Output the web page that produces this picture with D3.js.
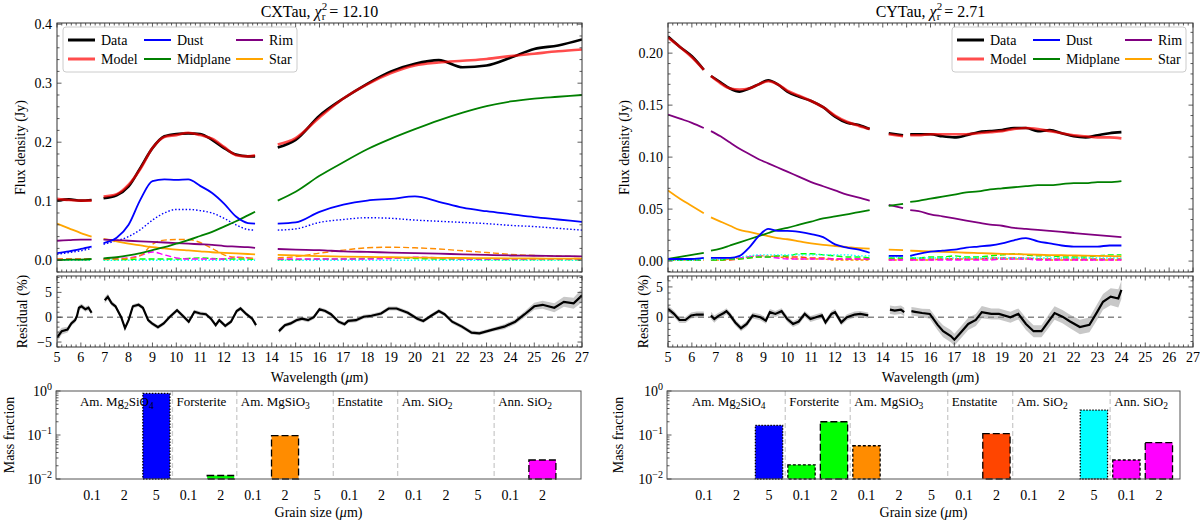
<!DOCTYPE html>
<html>
<head>
<meta charset="utf-8">
<script src="https://cdn.jsdelivr.net/npm/d3@7"></script>
<style>
body { margin: 0; background: #fff; }
</style>
</head>
<body>
<svg id="chart" width="1200" height="520"></svg>
<script>
// ---- CXTau spectrum (null = gap in wavelength coverage) ----
const cxWave = [5.0, 5.5, 6.0, 6.45, null, 6.95, 7.5, 8.0, 8.5, 9.0, 9.5, 10.0, 10.5, 11.0, 11.5, 12.0, 12.5, 13.0, 13.3, null, 14.25, 15, 16, 17, 18, 19, 20, 21, 22, 23, 24, 25, 26, 27];
const cxData = [0.101, 0.103, 0.101, 0.102, null, 0.105, 0.110, 0.125, 0.157, 0.190, 0.210, 0.214, 0.215, 0.214, 0.204, 0.190, 0.179, 0.176, 0.176, null, 0.191, 0.204, 0.245, 0.274, 0.299, 0.320, 0.333, 0.339, 0.327, 0.330, 0.343, 0.358, 0.364, 0.374];
const cxModel = [0.104, 0.102, 0.101, 0.101, null, 0.108, 0.112, 0.128, 0.155, 0.190, 0.209, 0.212, 0.216, 0.212, 0.206, 0.192, 0.178, 0.176, 0.178, null, 0.196, 0.207, 0.242, 0.274, 0.298, 0.317, 0.330, 0.335, 0.338, 0.341, 0.346, 0.350, 0.354, 0.357];
const cxDust = [0.012, 0.015, 0.019, 0.023, null, 0.029, 0.038, 0.060, 0.103, 0.134, 0.137, 0.136, 0.137, 0.126, 0.114, 0.096, 0.074, 0.063, 0.062, null, 0.062, 0.064, 0.082, 0.094, 0.101, 0.104, 0.108, 0.099, 0.089, 0.083, 0.078, 0.073, 0.069, 0.065];
const cxMid = [0.000, 0.001, 0.001, 0.002, null, 0.003, 0.005, 0.008, 0.012, 0.017, 0.022, 0.028, 0.034, 0.041, 0.048, 0.057, 0.066, 0.076, 0.082, null, 0.101, 0.116, 0.143, 0.166, 0.188, 0.206, 0.222, 0.237, 0.250, 0.261, 0.269, 0.274, 0.277, 0.280];
const cxRim = [0.033, 0.034, 0.035, 0.035, null, 0.035, 0.034, 0.033, 0.032, 0.031, 0.030, 0.029, 0.028, 0.027, 0.026, 0.024, 0.023, 0.022, 0.021, null, 0.019, 0.018, 0.017, 0.015, 0.014, 0.013, 0.012, 0.011, 0.010, 0.009, 0.008, 0.0075, 0.007, 0.0065];
const cxStar = [0.062, 0.054, 0.046, 0.040, null, 0.036, 0.032, 0.028, 0.025, 0.022, 0.020, 0.018, 0.0165, 0.015, 0.0135, 0.0125, 0.0115, 0.0105, 0.010, null, 0.009, 0.008, 0.007, 0.006, 0.0055, 0.005, 0.0045, 0.004, 0.0037, 0.0034, 0.0031, 0.0029, 0.0027, 0.0025];
// dust species contributions
const cxMg2SiO4big = [0.010, 0.013, 0.016, 0.020, null, 0.027, 0.033, 0.040, 0.052, 0.068, 0.080, 0.086, 0.086, 0.084, 0.080, 0.071, 0.060, 0.052, 0.051, null, 0.051, 0.053, 0.064, 0.069, 0.072, 0.071, 0.068, 0.066, 0.064, 0.062, 0.059, 0.057, 0.054, 0.051];
const cxMgSiO3mid = [0.002, 0.002, 0.002, 0.002, null, 0.002, 0.002, 0.003, 0.008, 0.027, 0.034, 0.035, 0.035, 0.030, 0.020, 0.009, 0.005, 0.004, 0.003, null, 0.004, 0.006, 0.012, 0.017, 0.021, 0.022, 0.021, 0.019, 0.016, 0.013, 0.010, 0.008, 0.007, 0.006];
const cxAnnSiO2mid = [0.002, 0.002, 0.002, 0.002, null, 0.002, 0.003, 0.004, 0.008, 0.014, 0.009, 0.004, 0.002, 0.002, 0.002, 0.002, 0.005, 0.004, 0.002, null, 0.002, 0.002, 0.002, 0.002, 0.002, 0.003, 0.005, 0.004, 0.002, 0.002, 0.002, 0.002, 0.002, 0.002];
const cxForstMid = [0.001, 0.001, 0.001, 0.001, null, 0.001, 0.001, 0.001, 0.002, 0.002, 0.002, 0.002, 0.003, 0.004, 0.003, 0.002, 0.002, 0.002, 0.001, null, 0.001, 0.001, 0.002, 0.002, 0.003, 0.004, 0.003, 0.002, 0.002, 0.001, 0.001, 0.001, 0.001, 0.001];
const cxAmSiO2 = [0, 0, 0, 0, null, 0, 0, 0, 0, 0, 0, 0, 0, 0, 0, 0, 0, 0, 0, null, 0, 0, 0, 0, 0, 0, 0, 0, 0, 0, 0, 0, 0, 0];
// residual: [wavelength, residual %, 1-sigma]
const cxResid = [
  [5.0,-4.1,0.9],[5.2,-2.8,0.7],[5.44,-2.5,0.6],[5.6,-1.25,0.5],[5.76,-0.6,0.5],[5.84,0.3,0.5],[5.92,1.9,0.5],[6.03,2.2,0.5],[6.19,1.6,0.5],[6.32,1.9,0.5],[6.45,0.9,0.5],
  null,
  [7.0,3.4,0.6],[7.13,4.1,0.6],[7.29,2.8,0.5],[7.45,2.2,0.4],[7.69,0,0.4],[7.85,-2.2,0.4],[8.0,-0.6,0.4],[8.18,2.2,0.4],[8.42,2.5,0.4],[8.6,1.9,0.4],[8.82,-0.6,0.4],[8.98,-1.25,0.4],[9.23,-2,0.4],[9.47,-1.25,0.4],[9.71,0,0.4],[10.03,1.4,0.4],[10.27,0.3,0.4],[10.52,-0.9,0.4],[10.76,1.1,0.4],[11.0,0.75,0.4],[11.24,0.6,0.4],[11.45,-0.3,0.4],[11.65,-1.6,0.4],[11.8,-0.6,0.4],[12.05,-1.75,0.4],[12.29,-0.9,0.4],[12.53,1.25,0.4],[12.69,1.75,0.4],[12.94,0.6,0.4],[13.18,-0.3,0.4],[13.34,-1.6,0.5],
  null,
  [14.3,-2.8,0.5],[14.55,-1.6,0.4],[14.79,-1.25,0.4],[15.03,-0.6,0.4],[15.27,-0.3,0.4],[15.52,-0.6,0.4],[15.76,0,0.4],[16.0,1.6,0.4],[16.24,1.25,0.4],[16.48,0.6,0.4],[16.8,-0.9,0.4],[17.05,-1.4,0.4],[17.2,-0.75,0.4],[17.53,-0.6,0.4],[17.85,0.1,0.4],[18.18,0.3,0.4],[18.58,0.75,0.4],[18.9,1.75,0.4],[19.23,1.75,0.4],[19.7,0.9,0.4],[20.1,-0.3,0.4],[20.35,-0.75,0.4],[20.68,0.3,0.4],[21.0,1.25,0.4],[21.24,0.6,0.4],[21.56,-0.9,0.4],[21.97,-1.9,0.4],[22.37,-3.1,0.4],[22.7,-3.25,0.4],[23.26,-2.5,0.4],[23.74,-1.9,0.5],[24.2,-0.9,0.5],[24.6,0.6,0.6],[25.0,2.2,0.7],[25.35,2.5,0.8],[25.84,1.9,0.9],[26.24,3.1,1.0],[26.65,2.8,1.1],[27.0,4.4,1.4]
];

// ---- CYTau spectrum ----
const cyWave = [5.0, 5.5, 6.0, 6.5, null, 6.8, 7.2, 7.6, 8.0, 8.4, 8.8, 9.2, 9.6, 10.0, 10.5, 11.0, 11.5, 12.0, 12.5, 13.0, 13.45, null, 14.25, 14.85, null, 15.15, 15.5, 16, 16.5, 17, 17.5, 18, 18.5, 19, 19.5, 20, 20.5, 21, 21.5, 22, 22.5, 23, 23.5, 24.0];
const cyData = [0.216, 0.206, 0.197, 0.184, null, 0.178, 0.172, 0.166, 0.163, 0.166, 0.170, 0.174, 0.170, 0.163, 0.158, 0.154, 0.148, 0.139, 0.133, 0.131, 0.127, null, 0.123, 0.121, null, 0.122, 0.122, 0.122, 0.120, 0.119, 0.121, 0.124, 0.125, 0.126, 0.128, 0.128, 0.125, 0.126, 0.123, 0.120, 0.119, 0.121, 0.123, 0.124];
const cyModel = [0.215, 0.206, 0.196, 0.184, null, 0.178, 0.171, 0.166, 0.165, 0.166, 0.170, 0.173, 0.170, 0.164, 0.159, 0.154, 0.148, 0.140, 0.134, 0.130, 0.127, null, 0.122, 0.120, null, 0.121, 0.121, 0.122, 0.122, 0.122, 0.122, 0.123, 0.124, 0.125, 0.127, 0.128, 0.127, 0.125, 0.123, 0.121, 0.120, 0.119, 0.119, 0.118];
const cyDust = [0.002, 0.002, 0.002, 0.003, null, 0.003, 0.003, 0.003, 0.005, 0.013, 0.024, 0.031, 0.029, 0.029, 0.028, 0.026, 0.023, 0.016, 0.013, 0.011, 0.008, null, 0.005, 0.005, null, 0.005, 0.007, 0.009, 0.010, 0.011, 0.013, 0.014, 0.015, 0.017, 0.020, 0.022, 0.019, 0.017, 0.015, 0.014, 0.014, 0.014, 0.015, 0.015];
const cyMid = [0.002, 0.004, 0.006, 0.008, null, 0.010, 0.012, 0.015, 0.018, 0.021, 0.024, 0.027, 0.030, 0.032, 0.035, 0.038, 0.041, 0.043, 0.045, 0.047, 0.049, null, 0.053, 0.055, null, 0.057, 0.058, 0.060, 0.062, 0.064, 0.066, 0.067, 0.069, 0.070, 0.071, 0.072, 0.073, 0.073, 0.074, 0.075, 0.075, 0.076, 0.076, 0.077];
const cyRim = [0.141, 0.137, 0.133, 0.128, null, 0.125, 0.120, 0.114, 0.108, 0.103, 0.098, 0.094, 0.090, 0.086, 0.081, 0.076, 0.072, 0.068, 0.064, 0.061, 0.058, null, 0.054, 0.051, null, 0.049, 0.048, 0.045, 0.043, 0.041, 0.039, 0.037, 0.035, 0.034, 0.032, 0.031, 0.030, 0.029, 0.028, 0.027, 0.026, 0.025, 0.024, 0.023];
const cyStar = [0.068, 0.060, 0.053, 0.046, null, 0.042, 0.038, 0.034, 0.030, 0.028, 0.026, 0.024, 0.022, 0.021, 0.019, 0.017, 0.0155, 0.0145, 0.0135, 0.0125, 0.012, null, 0.011, 0.0105, null, 0.010, 0.0097, 0.0093, 0.009, 0.0085, 0.008, 0.0077, 0.0073, 0.007, 0.0067, 0.0064, 0.0061, 0.0058, 0.0056, 0.0054, 0.0052, 0.005, 0.0048, 0.0046];
const cyAmSiO2big = [0.001, 0.001, 0.001, 0.002, null, 0.002, 0.002, 0.003, 0.004, 0.005, 0.006, 0.006, 0.006, 0.006, 0.006, 0.006, 0.006, 0.006, 0.006, 0.005, 0.005, null, 0.004, 0.004, null, 0.004, 0.003, 0.003, 0.003, 0.003, 0.003, 0.003, 0.003, 0.003, 0.003, 0.003, 0.003, 0.003, 0.003, 0.003, 0.003, 0.003, 0.003, 0.003];
const cyForstMid = [0.001, 0.001, 0.001, 0.001, null, 0.001, 0.001, 0.002, 0.002, 0.003, 0.004, 0.004, 0.005, 0.005, 0.007, 0.007, 0.006, 0.005, 0.004, 0.004, 0.003, null, 0.003, 0.003, null, 0.003, 0.003, 0.004, 0.004, 0.005, 0.004, 0.004, 0.005, 0.006, 0.007, 0.006, 0.005, 0.005, 0.004, 0.004, 0.004, 0.005, 0.006, 0.006];
const cyEnstMid = [0.001, 0.001, 0.001, 0.001, null, 0.001, 0.001, 0.001, 0.002, 0.003, 0.004, 0.004, 0.005, 0.004, 0.004, 0.003, 0.003, 0.002, 0.002, 0.002, 0.002, null, 0.002, 0.002, null, 0.002, 0.002, 0.002, 0.002, 0.002, 0.002, 0.002, 0.003, 0.003, 0.003, 0.003, 0.002, 0.002, 0.002, 0.002, 0.002, 0.002, 0.002, 0.002];
const cyAnnSiO2mid = [0.001, 0.001, 0.001, 0.001, null, 0.001, 0.002, 0.002, 0.003, 0.004, 0.005, 0.004, 0.003, 0.002, 0.002, 0.002, 0.002, 0.002, 0.002, 0.002, 0.002, null, 0.001, 0.001, null, 0.001, 0.001, 0.001, 0.001, 0.001, 0.001, 0.001, 0.001, 0.002, 0.002, 0.002, 0.001, 0.001, 0.001, 0.001, 0.001, 0.001, 0.001, 0.001];
const cyMgSiO3small = [0.001, 0.001, 0.001, 0.001, null, 0.001, 0.001, 0.002, 0.003, 0.004, 0.005, 0.005, 0.004, 0.003, 0.002, 0.002, 0.002, 0.001, 0.001, 0.001, 0.001, null, 0.001, 0.001, null, 0.001, 0.001, 0.001, 0.002, 0.002, 0.002, 0.002, 0.002, 0.002, 0.002, 0.002, 0.002, 0.001, 0.001, 0.001, 0.001, 0.001, 0.001, 0.001];
const cyResid = [
  [5.0,1.4,0.6],[5.24,0.6,0.5],[5.48,-0.45,0.5],[5.73,-0.45,0.5],[5.97,0.3,0.5],[6.2,0.45,0.5],[6.5,0.45,0.5],
  null,
  [6.8,0.3,0.6],[6.94,-0.3,0.6],[7.1,0.2,0.5],[7.34,0.7,0.5],[7.45,1.0,0.5],[7.58,0.45,0.5],[7.82,-0.85,0.5],[8.06,-1.8,0.5],[8.3,-1.1,0.5],[8.55,0.3,0.5],[8.87,0,0.5],[9.1,-0.55,0.5],[9.27,0.85,0.5],[9.5,0.55,0.5],[9.76,1.0,0.5],[10.0,-0.3,0.5],[10.24,-1.1,0.5],[10.48,-0.7,0.5],[10.73,0.55,0.5],[10.97,-0.3,0.5],[11.2,0,0.5],[11.45,0.3,0.5],[11.6,-0.85,0.5],[11.85,0.55,0.5],[12.0,0.85,0.5],[12.26,-0.85,0.5],[12.5,0,0.5],[12.82,0.45,0.5],[13.06,0.55,0.5],[13.39,0.3,0.5],
  null,
  [14.3,1.25,0.7],[14.5,1.1,0.7],[14.76,1.25,0.7],[14.9,0.85,0.7],
  null,
  [15.2,1.0,0.7],[15.35,0.9,0.7],[15.65,0.7,0.7],[15.97,0.55,0.8],[16.3,-1.25,0.9],[16.53,-2.3,1.0],[16.85,-3.1,1.0],[17.0,-3.7,1.0],[17.26,-2.55,1.0],[17.58,-1.1,1.0],[17.9,-0.45,1.0],[18.15,0.85,1.0],[18.55,0.55,0.9],[18.87,0.55,0.9],[19.35,0,0.9],[19.68,0.55,0.9],[20.0,-1.1,1.0],[20.32,-2.3,1.0],[20.65,-2.3,1.0],[20.97,-0.55,1.1],[21.2,0.7,1.1],[21.53,0.1,1.1],[21.85,-0.7,1.1],[22.26,-1.6,1.2],[22.66,-1.25,1.2],[22.98,0.85,1.3],[23.23,2.55,1.3],[23.55,3.4,1.4],[23.87,3.1,1.5],[24.0,4.5,1.5]
];

// ---- dust composition ----
const speciesNames = [['Am. Mg', '2', 'SiO', '4'], ['Forsterite'], ['Am. MgSiO', '3'], ['Enstatite'], ['Am. SiO', '2'], ['Ann. SiO', '2']];
const speciesSizes = [['0.1', '2', '5'], ['0.1', '2'], ['0.1', '2', '5'], ['0.1', '2'], ['0.1', '2', '5'], ['0.1', '2']];
const speciesColors = ['#0000ff', '#00ff00', '#ff8c00', '#ff4500', '#00ffff', '#ff00ff'];
const cxMass = [0, 0, 0.88, 0, 0.012, 0, 0.097, 0, 0, 0, 0, 0, 0, 0, 0.027];
const cyMass = [0, 0, 0.165, 0.021, 0.20, 0.057, 0, 0, 0, 0.107, 0, 0, 0.367, 0.027, 0.067];

const sizeDash = { '0.1': '3,2', '2': '7,3', '5': '1.5,1.5' };
const legendItems = [['Data', '#000000', 3], ['Dust', '#0000ff', 2], ['Rim', '#800080', 2],
                     ['Model', '#ff4d4d', 3], ['Midplane', '#008000', 2], ['Star', '#ffa500', 2]];

const panels = [
  {
    name: 'CXTau', chi: '12.10', x0: 57, x1: 582, yDom: [-0.02, 0.402], yMajor: 0.1, yMinor: 0.02, yFmt: d3.format('.1f'),
    resDom: [-6, 8.3], wave: cxWave, data: cxData, model: cxModel, dust: cxDust, mid: cxMid, rim: cxRim, star: cxStar,
    comps: [[cxAmSiO2, '#00ffff', '1.5,2'], [cxForstMid, '#00ff00', '6,3'], [cxAnnSiO2mid, '#ff00ff', '6,3'],
            [cxMgSiO3mid, '#ff8c00', '6,3'], [cxMg2SiO4big, '#0000ff', '1.5,2']],
    resid: cxResid, legendX: 63, barX0: 56, barX1: 581, barDom: [-1.12, 15.2], mass: cxMass
  },
  {
    name: 'CYTau', chi: '2.71', x0: 668, x1: 1193, yDom: [-0.0105, 0.229], yMajor: 0.05, yMinor: 0.01, yFmt: d3.format('.2f'),
    resDom: [-4.9, 6.8], wave: cyWave, data: cyData, model: cyModel, dust: cyDust, mid: cyMid, rim: cyRim, star: cyStar,
    comps: [[cyMgSiO3small, '#ff8c00', '3,2'], [cyEnstMid, '#ff4500', '6,3'], [cyAnnSiO2mid, '#ff00ff', '6,3'],
            [cyForstMid, '#00ff00', '6,3'], [cyAmSiO2big, '#00ffff', '1.5,2']],
    resid: cyResid, legendX: 952, barX0: 667, barX1: 1180, barDom: [-1.14, 14.65], mass: cyMass
  }
];

const TOP = [23, 272], RES = [276, 347], BAR = [391, 479];
const svg = d3.select('#chart')
  .attr('font-family', '"Liberation Serif", "Times New Roman", "DejaVu Serif", serif');
svg.append('rect').attr('width', 1200).attr('height', 520).attr('fill', '#fff');
const defs = svg.append('defs');

function stepValues(domain, step) {
  const out = [];
  const s = Math.ceil(domain[0] / step - 1e-9), e = Math.floor(domain[1] / step + 1e-9);
  for (let i = s; i <= e; i++) out.push(+(i * step).toFixed(6));
  return out;
}
function minorOnly(domain, step, majorStep) {
  return stepValues(domain, step).filter(v => Math.abs(v / majorStep - Math.round(v / majorStep)) > 1e-6);
}
function pairs(wave, vals) {
  return wave.map((w, i) => (w == null || vals[i] == null) ? null : [w, vals[i]]);
}

// inward ticks on all four sides, matplotlib style
function inwardTicks(g, x, y, xVals, yVals, len) {
  const [xa, xb] = x.range();
  const [ya, yb] = y.range();
  const t = g.append('g').attr('stroke', '#333').attr('stroke-width', 0.8);
  t.selectAll('.xb').data(xVals).join('line').attr('class', 'xb')
    .attr('x1', d => x(d)).attr('x2', d => x(d)).attr('y1', ya).attr('y2', ya - len);
  t.selectAll('.xt').data(xVals).join('line').attr('class', 'xt')
    .attr('x1', d => x(d)).attr('x2', d => x(d)).attr('y1', yb).attr('y2', yb + len);
  t.selectAll('.yl').data(yVals).join('line').attr('class', 'yl')
    .attr('x1', xa).attr('x2', xa + len).attr('y1', d => y(d)).attr('y2', d => y(d));
  t.selectAll('.yr').data(yVals).join('line').attr('class', 'yr')
    .attr('x1', xb).attr('x2', xb - len).attr('y1', d => y(d)).attr('y2', d => y(d));
}

function rotatedLabel(g, x, y, text) {
  return g.append('text').attr('transform', `translate(${x},${y}) rotate(-90)`)
    .attr('text-anchor', 'middle').attr('dy', '0.35em').attr('font-size', 14).text(text);
}

function unitLabel(g, x, y, before) {
  const t = g.append('text').attr('x', x).attr('y', y).attr('text-anchor', 'middle').attr('font-size', 14);
  t.append('tspan').text(before + ' (');
  t.append('tspan').attr('font-style', 'italic').text('μ');
  t.append('tspan').text('m)');
}

panels.forEach((p, k) => {
  const g = svg.append('g');
  const x = d3.scaleLinear().domain([5, 27]).range([p.x0, p.x1]);
  const y = d3.scaleLinear().domain(p.yDom).range([TOP[1], TOP[0]]);
  const yr = d3.scaleLinear().domain(p.resDom).range([RES[1], RES[0]]);

  defs.append('clipPath').attr('id', 'ct' + k).append('rect')
    .attr('x', p.x0).attr('y', TOP[0]).attr('width', p.x1 - p.x0).attr('height', TOP[1] - TOP[0]);
  defs.append('clipPath').attr('id', 'cr' + k).append('rect')
    .attr('x', p.x0).attr('y', RES[0]).attr('width', p.x1 - p.x0).attr('height', RES[1] - RES[0]);

  // ---------- spectrum panel ----------
  const line = d3.line().defined(d => d != null).x(d => x(d[0])).y(d => y(d[1])).curve(d3.curveMonotoneX);
  const plot = g.append('g').attr('clip-path', `url(#ct${k})`).attr('fill', 'none');

  p.comps.forEach(([vals, color, dash]) => {
    plot.append('path').attr('d', line(pairs(p.wave, vals)))
      .attr('stroke', color).attr('stroke-width', 1.4).attr('stroke-dasharray', dash);
  });
  [[p.star, '#ffa500'], [p.rim, '#800080'], [p.mid, '#008000'], [p.dust, '#0000ff']].forEach(([vals, color]) => {
    plot.append('path').attr('d', line(pairs(p.wave, vals))).attr('stroke', color).attr('stroke-width', 1.8);
  });
  plot.append('path').attr('d', line(pairs(p.wave, p.data))).attr('stroke', '#000').attr('stroke-width', 2.6);
  plot.append('path').attr('d', line(pairs(p.wave, p.model))).attr('stroke', '#ff0000')
    .attr('stroke-opacity', 0.7).attr('stroke-width', 2.6);

  g.append('rect').attr('x', p.x0).attr('y', TOP[0]).attr('width', p.x1 - p.x0).attr('height', TOP[1] - TOP[0])
    .attr('fill', 'none').attr('stroke', '#333').attr('stroke-width', 1);
  inwardTicks(g, x, y, stepValues([5, 27], 1), stepValues(p.yDom, p.yMajor), 4.5);
  inwardTicks(g, x, y, minorOnly([5, 27], 0.2, 1), minorOnly(p.yDom, p.yMinor, p.yMajor), 2.5);

  g.append('g').selectAll('text').data(stepValues(p.yDom, p.yMajor)).join('text')
    .attr('x', p.x0 - 5).attr('y', d => y(d)).attr('dy', '0.35em').attr('text-anchor', 'end')
    .attr('font-size', 14).text(d => p.yFmt(d));
  rotatedLabel(g, k === 0 ? 20 : 624, (TOP[0] + TOP[1]) / 2, 'Flux density (Jy)');

  // title with reduced chi-square
  const title = g.append('text').attr('x', (p.x0 + p.x1) / 2).attr('y', 17).attr('text-anchor', 'middle').attr('font-size', 16);
  title.append('tspan').text(p.name + ', ');
  title.append('tspan').attr('font-style', 'italic').text('χ');
  title.append('tspan').attr('font-size', 11).attr('dy', -7).text('2');
  title.append('tspan').attr('font-size', 11).attr('dx', -5.5).attr('dy', 10).text('r');
  title.append('tspan').attr('dy', -3).text(' = ' + p.chi);

  // legend
  const lg = g.append('g').attr('transform', `translate(${p.legendX},27)`);
  lg.append('rect').attr('width', 234).attr('height', 45).attr('rx', 3)
    .attr('fill', '#fff').attr('fill-opacity', 0.85).attr('stroke', '#cccccc');
  const colX = [5, 81, 173];
  const item = lg.selectAll('.item').data(legendItems).join('g')
    .attr('transform', (d, i) => `translate(${colX[i % 3]},${13 + Math.floor(i / 3) * 19})`);
  item.append('line').attr('x1', 0).attr('x2', 27).attr('stroke', d => d[1]).attr('stroke-width', d => d[2]);
  item.append('text').attr('x', 33).attr('dy', '0.35em').attr('font-size', 14).text(d => d[0]);

  // ---------- residual panel ----------
  const area = d3.area().defined(d => d != null).x(d => x(d[0]))
    .y0(d => yr(d[1] - d[2])).y1(d => yr(d[1] + d[2]));
  const rline = d3.line().defined(d => d != null).x(d => x(d[0])).y(d => yr(d[1]));
  const rp = g.append('g').attr('clip-path', `url(#cr${k})`);
  rp.append('path').attr('d', area(p.resid)).attr('fill', '#c8c8c8');
  const wl = d3.extent(p.resid.filter(d => d != null), d => d[0]);
  rp.append('line').attr('x1', x(wl[0])).attr('x2', x(wl[1])).attr('y1', yr(0)).attr('y2', yr(0))
    .attr('stroke', '#888').attr('stroke-width', 1.5).attr('stroke-dasharray', '6,4');
  rp.append('path').attr('d', rline(p.resid)).attr('fill', 'none').attr('stroke', '#000').attr('stroke-width', 2.2);

  g.append('rect').attr('x', p.x0).attr('y', RES[0]).attr('width', p.x1 - p.x0).attr('height', RES[1] - RES[0])
    .attr('fill', 'none').attr('stroke', '#333').attr('stroke-width', 1);
  inwardTicks(g, x, yr, stepValues([5, 27], 1), stepValues(p.resDom, 5), 4.5);
  inwardTicks(g, x, yr, minorOnly([5, 27], 0.2, 1), minorOnly(p.resDom, 1, 5), 2.5);
  g.append('g').selectAll('text').data(stepValues(p.resDom, 5)).join('text')
    .attr('x', p.x0 - 5).attr('y', d => yr(d)).attr('dy', '0.35em').attr('text-anchor', 'end')
    .attr('font-size', 14).text(d => d < 0 ? '−' + Math.abs(d) : d);
  g.append('g').selectAll('text').data(stepValues([5, 27], 1)).join('text')
    .attr('x', d => x(d)).attr('y', 362).attr('text-anchor', 'middle').attr('font-size', 14).text(d => d);
  rotatedLabel(g, k === 0 ? 22 : 643, (RES[0] + RES[1]) / 2, 'Residual (%)');
  unitLabel(g, (p.x0 + p.x1) / 2, 382, 'Wavelength');

  // ---------- mass fraction bars ----------
  const bx = d3.scaleLinear().domain(p.barDom).range([p.barX0, p.barX1]);
  const by = d3.scaleLog().domain([0.01, 1]).range([BAR[1], BAR[0]]);
  const sizes = speciesSizes.flat();
  const colors = speciesSizes.flatMap((s, i) => s.map(() => speciesColors[i]));
  const starts = speciesSizes.map((s, i) => d3.sum(speciesSizes.slice(0, i), a => a.length));

  const bg = g.append('g');
  bg.selectAll('.sep').data(starts.slice(1)).join('line').attr('class', 'sep')
    .attr('x1', d => bx(d - 0.5)).attr('x2', d => bx(d - 0.5)).attr('y1', BAR[0]).attr('y2', BAR[1])
    .attr('stroke', '#cccccc').attr('stroke-width', 1.3).attr('stroke-dasharray', '5,3');

  const bars = sizes.map((s, i) => ({ i, size: s, color: colors[i], m: p.mass[i] })).filter(d => d.m > 0);
  bg.selectAll('.bar').data(bars).join('rect').attr('class', 'bar')
    .attr('x', d => bx(d.i - 0.42)).attr('width', bx(0.84) - bx(0))
    .attr('y', d => by(d.m)).attr('height', d => by(0.01) - by(d.m))
    .attr('fill', d => d.color).attr('stroke', '#000').attr('stroke-width', 1.3)
    .attr('stroke-dasharray', d => sizeDash[d.size]);

  const names = bg.selectAll('.name').data(speciesNames).join('text').attr('class', 'name')
    .attr('x', (d, i) => bx(starts[i] - 0.5) + 4).attr('y', 406).attr('font-size', 13);
  names.each(function (parts) {
    const t = d3.select(this);
    parts.forEach((part, j) => {
      if (j % 2 === 0) t.append('tspan').attr('dy', j ? -3 : 0).text(part);
      else t.append('tspan').attr('font-size', 9.5).attr('dy', 3).text(part);
    });
  });

  g.append('rect').attr('x', p.barX0).attr('y', BAR[0]).attr('width', p.barX1 - p.barX0).attr('height', BAR[1] - BAR[0])
    .attr('fill', 'none').attr('stroke', '#555').attr('stroke-width', 1);
  const majors = [0.01, 0.1, 1];
  const minors = [0.01, 0.1].flatMap(dec => d3.range(2, 10).map(m => m * dec));
  g.append('g').attr('stroke', '#333').attr('stroke-width', 0.8).selectAll('line')
    .data(majors.map(v => [v, 4.5]).concat(minors.map(v => [v, 2.5]))).join('line')
    .attr('x1', p.barX0).attr('x2', d => p.barX0 + d[1]).attr('y1', d => by(d[0])).attr('y2', d => by(d[0]));
  const yl = g.append('g').selectAll('text').data(majors).join('text')
    .attr('x', p.barX0 - 4).attr('y', d => by(d)).attr('dy', '0.35em').attr('text-anchor', 'end').attr('font-size', 14);
  yl.append('tspan').text('10');
  yl.append('tspan').attr('font-size', 10).attr('dy', -6).text(d => d === 1 ? '0' : '−' + Math.round(-Math.log10(d)));

  g.append('g').selectAll('text').data(sizes).join('text')
    .attr('x', (d, i) => bx(i)).attr('y', 500).attr('text-anchor', 'middle').attr('font-size', 14).text(d => d);
  rotatedLabel(g, k === 0 ? 9 : 618, (BAR[0] + BAR[1]) / 2, 'Mass fraction');
  unitLabel(g, (p.barX0 + p.barX1) / 2, 517, 'Grain size');
});
</script>
</body>
</html>
